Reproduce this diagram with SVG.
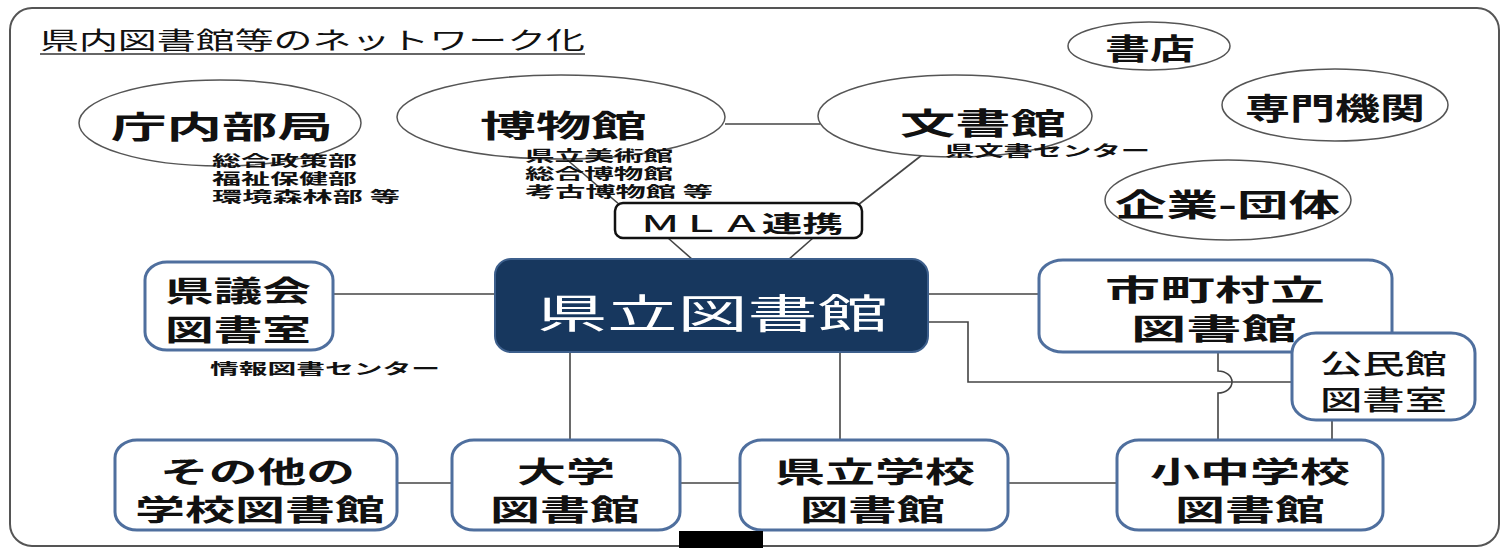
<svg xmlns="http://www.w3.org/2000/svg" width="1506" height="548" viewBox="0 0 1506 548">
<style>
text{font-family:"Noto Sans CJK JP","Noto Sans CJK SC",sans-serif;fill:#111}
.b{font-weight:700}
.ell{fill:#fff;stroke:#555;stroke-width:1.5}
.box{fill:#fff;stroke:#4f6f9e;stroke-width:3}
.ln{fill:none;stroke:#444;stroke-width:1.6}
.sub{font-size:15px;font-weight:700}
</style>
<rect x="10" y="8" width="1489" height="538" rx="22" fill="#fff" stroke="#555" stroke-width="2"/>
<text x="40" y="49" font-size="24" textLength="545" lengthAdjust="spacingAndGlyphs">県内図書館等のネットワーク化</text>
<line x1="40" y1="54" x2="585" y2="54" stroke="#333" stroke-width="1.5"/>

<g id="connectors">
<line class="ln" x1="725" y1="124" x2="820" y2="124"/>
<line class="ln" x1="565" y1="158" x2="620" y2="205"/>
<line class="ln" x1="922" y1="155" x2="858" y2="205"/>
<line class="ln" x1="668" y1="238" x2="693" y2="260"/>
<line class="ln" x1="813" y1="238" x2="788" y2="260"/>
<line class="ln" x1="333" y1="294" x2="495" y2="294"/>
<line class="ln" x1="928" y1="294" x2="1039" y2="294"/>
<path class="ln" d="M928 322 H968 V382 H1292"/>
<path class="ln" d="M1218 352 V371 A14 11 0 0 1 1218 393 V440"/>
<line class="ln" x1="1332" y1="420" x2="1332" y2="440"/>
<line class="ln" x1="570" y1="352" x2="570" y2="440"/>
<line class="ln" x1="840" y1="352" x2="840" y2="440"/>
<line class="ln" x1="397" y1="483" x2="452" y2="483"/>
<line class="ln" x1="680" y1="483" x2="740" y2="483"/>
<line class="ln" x1="1008" y1="483" x2="1117" y2="483"/>
</g>

<g id="chounai">
<ellipse class="ell" cx="220" cy="123" rx="141" ry="43"/>
<text class="b" x="111" y="138" font-size="31" textLength="222" lengthAdjust="spacingAndGlyphs">庁内部局</text>
</g>
<g id="chounai-sub">
<text class="sub" x="212" y="166" textLength="145" lengthAdjust="spacingAndGlyphs">総合政策部</text>
<text class="sub" x="212" y="184" textLength="145" lengthAdjust="spacingAndGlyphs">福祉保健部</text>
<text class="sub" x="212" y="202" textLength="188" lengthAdjust="spacingAndGlyphs">環境森林部 等</text>
</g>

<g id="hakubutsukan">
<ellipse class="ell" cx="561" cy="117" rx="164" ry="42"/>
<text class="b" x="480" y="137" font-size="31" textLength="167" lengthAdjust="spacingAndGlyphs">博物館</text>
</g>
<g id="hakubutsukan-sub">
<text class="sub" x="525" y="161" textLength="148" lengthAdjust="spacingAndGlyphs">県立美術館</text>
<text class="sub" x="525" y="179" textLength="148" lengthAdjust="spacingAndGlyphs">総合博物館</text>
<text class="sub" x="525" y="197" textLength="188" lengthAdjust="spacingAndGlyphs">考古博物館 等</text>
</g>

<g id="monjokan">
<ellipse class="ell" cx="955" cy="116" rx="137" ry="41"/>
<text class="b" x="900" y="134" font-size="30" textLength="166" lengthAdjust="spacingAndGlyphs">文書館</text>
<text class="sub" x="945" y="156" textLength="205" lengthAdjust="spacingAndGlyphs">県文書センター</text>
</g>

<g id="shoten">
<ellipse class="ell" cx="1149" cy="46" rx="81" ry="24"/>
<text class="b" x="1105" y="60" font-size="29" textLength="90" lengthAdjust="spacingAndGlyphs">書店</text>
</g>

<g id="senmon">
<ellipse class="ell" cx="1335" cy="105" rx="113" ry="36"/>
<text class="b" x="1245" y="119" font-size="30" textLength="180" lengthAdjust="spacingAndGlyphs">専門機関</text>
</g>

<g id="kigyou">
<ellipse class="ell" cx="1228" cy="200" rx="123" ry="40"/>
<text class="b" x="1115" y="216" font-size="31" textLength="225" lengthAdjust="spacingAndGlyphs">企業-団体</text>
</g>

<g id="mla">
<rect x="615" y="203" width="247" height="35" rx="8" fill="#fff" stroke="#111" stroke-width="2.5"/>
<text x="640" y="232" font-size="23" textLength="203" lengthAdjust="spacingAndGlyphs"><tspan font-weight="500">ＭＬＡ</tspan><tspan font-weight="700">連携</tspan></text>
</g>

<g id="kenritsu">
<rect x="495" y="259" width="433" height="93" rx="16" fill="#17375e" stroke="#3d5f8c" stroke-width="2"/>
<text x="537" y="328" font-size="40" style="fill:#fff" textLength="351" lengthAdjust="spacingAndGlyphs">県立図書館</text>
</g>

<g id="kengikai">
<rect class="box" x="145" y="262" width="188" height="88" rx="22" ry="18"/>
<text class="b" x="165" y="302" font-size="29" textLength="146" lengthAdjust="spacingAndGlyphs">県議会</text>
<text class="b" x="165" y="341" font-size="29" textLength="146" lengthAdjust="spacingAndGlyphs">図書室</text>
</g>
<text class="sub" x="210" y="374" textLength="230" lengthAdjust="spacingAndGlyphs">情報図書センター</text>

<g id="shichouson">
<rect class="box" x="1039" y="260" width="353" height="92" rx="24" ry="18"/>
<text class="b" x="1105" y="301" font-size="29" textLength="220" lengthAdjust="spacingAndGlyphs">市町村立</text>
<text class="b" x="1131" y="340" font-size="29" textLength="166" lengthAdjust="spacingAndGlyphs">図書館</text>
</g>

<g id="kouminkan">
<rect class="box" x="1292" y="333" width="183" height="87" rx="24" ry="20"/>
<text x="1320" y="374" font-size="27" font-weight="500" textLength="127" lengthAdjust="spacingAndGlyphs">公民館</text>
<text x="1320" y="410" font-size="27" font-weight="500" textLength="127" lengthAdjust="spacingAndGlyphs">図書室</text>
</g>

<g id="sonota">
<rect class="box" x="115" y="440" width="282" height="90" rx="22" ry="18"/>
<text class="b" x="160" y="483" font-size="29" textLength="195" lengthAdjust="spacingAndGlyphs">その他の</text>
<text class="b" x="135" y="521" font-size="29" textLength="250" lengthAdjust="spacingAndGlyphs">学校図書館</text>
</g>

<g id="daigaku">
<rect class="box" x="452" y="440" width="228" height="90" rx="22" ry="18"/>
<text class="b" x="517" y="483" font-size="29" textLength="98" lengthAdjust="spacingAndGlyphs">大学</text>
<text class="b" x="490" y="521" font-size="29" textLength="150" lengthAdjust="spacingAndGlyphs">図書館</text>
</g>

<g id="kenritsugakkou">
<rect class="box" x="740" y="440" width="268" height="90" rx="22" ry="18"/>
<text class="b" x="775" y="483" font-size="29" textLength="200" lengthAdjust="spacingAndGlyphs">県立学校</text>
<text class="b" x="800" y="521" font-size="29" textLength="145" lengthAdjust="spacingAndGlyphs">図書館</text>
</g>

<g id="shouchuu">
<rect class="box" x="1117" y="440" width="266" height="90" rx="22" ry="18"/>
<text class="b" x="1150" y="483" font-size="29" textLength="200" lengthAdjust="spacingAndGlyphs">小中学校</text>
<text class="b" x="1175" y="521" font-size="29" textLength="150" lengthAdjust="spacingAndGlyphs">図書館</text>
</g>

<rect x="679" y="531" width="84" height="17" fill="#000"/>
</svg>
